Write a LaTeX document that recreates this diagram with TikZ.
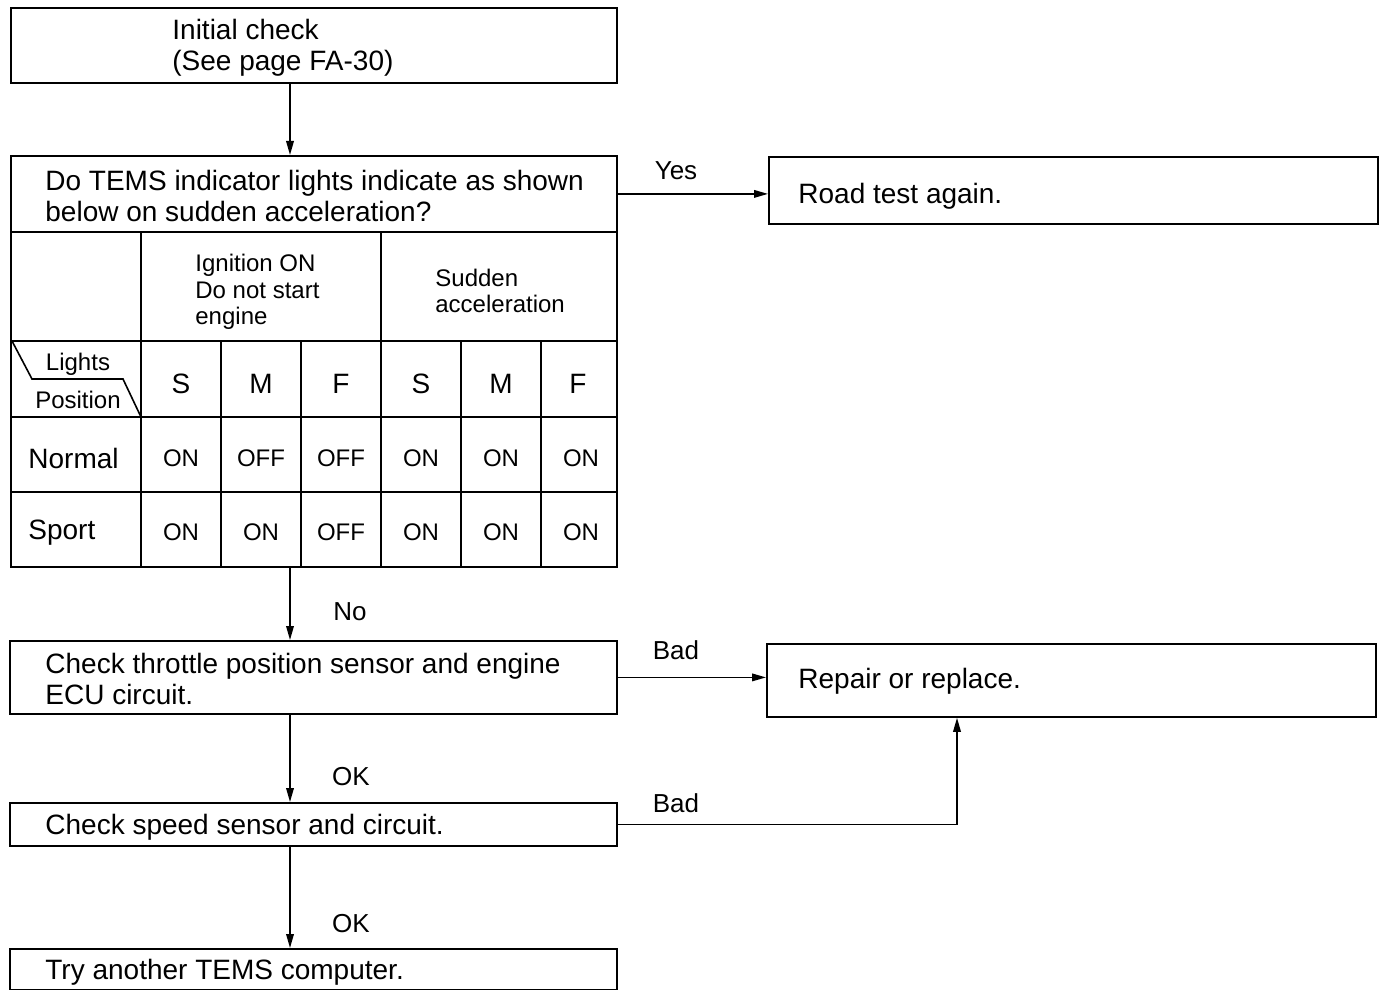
\documentclass[tikz,border=0pt]{standalone}
\usepackage{fontspec}
\setmainfont{Liberation Sans}
\usetikzlibrary{arrows.meta,calc}
\begin{document}
\begin{tikzpicture}[x=0.5pt,y=-0.5pt,
 box/.style={draw,line width=0.9pt,rectangle,inner sep=0pt,anchor=north west},
 txt/.style={anchor=west,align=left,inner sep=0pt,yshift=-1.5pt,font=\fontsize{14}{15.5}\selectfont},
 small/.style={inner sep=0pt,align=left,yshift=-1pt,font=\fontsize{12}{13.25}\selectfont},
 big/.style={inner sep=0pt,yshift=-1.5pt,font=\fontsize{14}{15}\selectfont},
 lab/.style={inner sep=0pt,font=\fontsize{13}{15}\selectfont},
 arr/.style={line width=0.8pt,-{Triangle[length=7pt,width=3.8pt]}},
 gridline/.style={line width=0.8pt}]

\useasboundingbox (0,0) rectangle (1381,990);

% boxes
\node[box,minimum width=303pt,minimum height=37.5pt] (init) at (10,7) {};
\node[box,minimum width=303pt,minimum height=38pt] (q) at (10,155) {};
\node[box,minimum width=303pt,minimum height=167.5pt] (tab) at (10,231) {};
\node[box,minimum width=304.5pt,minimum height=33.5pt] (road) at (768,156) {};
\node[box,minimum width=303.5pt,minimum height=36.5pt] (thr) at (9,640) {};
\node[box,minimum width=304.5pt,minimum height=36.5pt] (rep) at (766,643) {};
\node[box,minimum width=303.5pt,minimum height=21.5pt] (spd) at (9,802) {};
\node[box,minimum width=303.5pt,minimum height=20.5pt] (try) at (9,948) {};

% box texts
\node[txt] (t1) at (172,45) {Initial check\\(See page FA-30)};
\node[txt] (t2) at (45,193) {Do TEMS indicator lights indicate as shown\\below on sudden acceleration?};
\node[txt] (t3) at (798,193) {Road test again.};
\node[txt] (t4) at (45,676) {Check throttle position sensor and engine\\ECU circuit.};
\node[txt] (t5) at (798,678) {Repair or replace.};
\node[txt] (t6) at (45,824) {Check speed sensor and circuit.};
\node[txt] (t7) at (45,969) {Try another TEMS computer.};

% table grid
\draw[gridline] (141,231) -- (141,566);
\draw[gridline] (381,231) -- (381,566);
\foreach \x in {221,301,461,541} \draw[gridline] (\x,341) -- (\x,566);
\foreach \y in {341,417,492} \draw[gridline] (10,\y) -- (616,\y);
\draw[gridline] (12,341) -- (32,379) -- (123,379) -- (141,417);

% table header texts
\node[small,anchor=west] (h1) at (195,290) {Ignition ON\\Do not start\\engine};
\node[small,anchor=west] (h2) at (435,289) {Sudden\\acceleration};
\node[small] (hl) at (78,362) {Lights};
\node[small] (hp) at (78,398) {Position};
\foreach \x/\t [count=\i] in {181/S,261/M,341/F,421/S,501/M,578/F}
  \node[big] (c\i) at (\x,381) {\t};
\node[big,anchor=west] (rn) at (28,455) {Normal};
\node[big,anchor=west] (rs) at (28,530) {Sport};
\foreach \x/\t [count=\i] in {181/ON,261/OFF,341/OFF,421/ON,501/ON,581/ON}
  \node[small] (n\i) at (\x,456) {\t};
\foreach \x/\t [count=\i] in {181/ON,261/ON,341/OFF,421/ON,501/ON,581/ON}
  \node[small] (s\i) at (\x,530) {\t};

% connectors
\coordinate (sp) at (290,0);
\coordinate (rx) at (957,0);
\draw[arr] (init.south -| sp) -- (q.north -| sp);
\draw[arr] (q.east) -- (road.west |- q.east);
\draw[arr] (tab.south -| sp) -- (thr.north -| sp);
\draw[arr] (thr.east) -- (thr.east -| rep.west);
\draw[arr] (thr.south -| sp) -- (spd.north -| sp);
\draw[arr] (spd.east) -| (rep.south -| rx);
\draw[arr] (spd.south -| sp) -- (try.north -| sp);

% labels
\node[lab] (lyes) at (676,171) {Yes};
\node[lab] (lno) at (350,612) {No};
\node[lab] (lbad1) at (676,650) {Bad};
\node[lab] (lok1) at (351,777) {OK};
\node[lab] (lbad2) at (676,803) {Bad};
\node[lab] (lok2) at (351,924) {OK};
\end{tikzpicture}
\end{document}
